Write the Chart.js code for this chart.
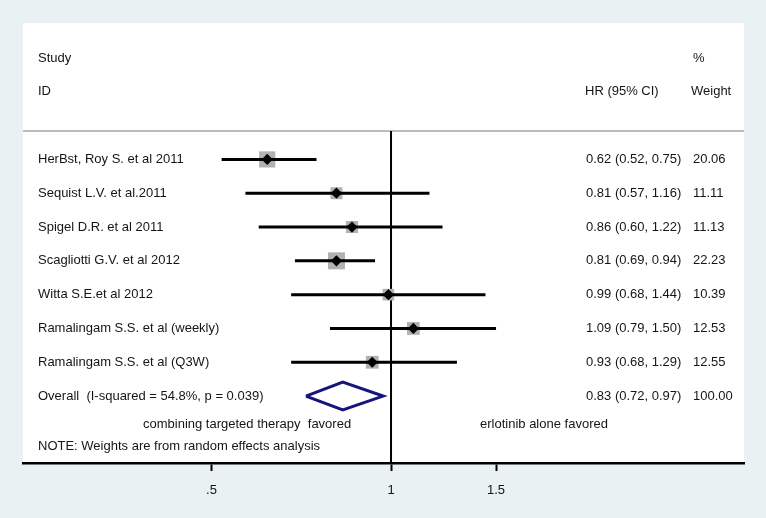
<!DOCTYPE html>
<html>
<head>
<meta charset="utf-8">
<script src="https://cdn.jsdelivr.net/npm/chart.js@4"></script>
<style>
  body { margin: 0; background: #e9f1f3; }
  canvas { display: block; }
</style>
</head>
<body>
<canvas id="forest" width="766" height="518"></canvas>
<script>
// study data
var studies = ['HerBst, Roy S. et al 2011', 'Sequist L.V. et al.2011', 'Spigel D.R. et al 2011',
  'Scagliotti G.V. et al 2012', 'Witta S.E.et al 2012', 'Ramalingam S.S. et al (weekly)', 'Ramalingam S.S. et al (Q3W)'];
var hr = [0.62, 0.81, 0.86, 0.81, 0.99, 1.09, 0.93];
var lower = [0.52, 0.57, 0.60, 0.69, 0.68, 0.79, 0.68];
var upper = [0.75, 1.16, 1.22, 0.94, 1.44, 1.50, 1.29];
var weights = [20.06, 11.11, 11.13, 22.23, 10.39, 12.53, 12.55];
var rows = [3, 4, 5, 6, 7, 8, 9];

var overallLabel = 'Overall  (I-squared = 54.8%, p = 0.039)';
var overall = { hr: 0.83, lower: 0.72, upper: 0.97, weight: '100.00', row: 10 };

var xTicks = [0.5, 1, 1.5];
var xTickLabels = ['.5', '1', '1.5'];

var FONT = '13px "Liberation Sans", Arial, sans-serif';
var TXT = '#151515';

function fmt(v) { return v.toFixed(2); }

var datasets = [];

// black diamond markers (on top)
datasets.push({
  data: hr.map(function(v, i) { return { x: v, y: rows[i] }; }),
  pointStyle: 'rectRot',
  pointRadius: 5.6,
  pointHoverRadius: 5.6,
  backgroundColor: '#000',
  borderWidth: 0,
  order: 0
});

// confidence interval lines
studies.forEach(function(s, i) {
  datasets.push({
    data: [{ x: lower[i], y: rows[i] }, { x: upper[i], y: rows[i] }],
    showLine: true,
    borderColor: '#000',
    borderWidth: 3,
    pointRadius: 0,
    order: 1
  });
});

// weight squares
datasets.push({
  data: hr.map(function(v, i) { return { x: v, y: rows[i] }; }),
  pointStyle: 'rect',
  pointRadius: function(ctx) { return 2.55 * Math.sqrt(weights[ctx.dataIndex] || 0); },
  backgroundColor: '#b1b1b1',
  borderWidth: 0,
  order: 2
});

// overall diamond
var dh = 0.41;
datasets.push({
  data: [
    { x: overall.lower, y: overall.row },
    { x: overall.hr, y: overall.row - dh },
    { x: overall.upper, y: overall.row },
    { x: overall.hr, y: overall.row + dh },
    { x: overall.lower, y: overall.row }
  ],
  showLine: true,
  borderColor: '#15157a',
  borderWidth: 3,
  borderJoinStyle: 'miter',
  pointRadius: 0,
  order: 3
});

var forestPlugin = {
  id: 'forest',
  beforeDraw: function(chart) {
    var c = chart.ctx, a = chart.chartArea;
    c.save();
    c.fillStyle = '#e9f1f3';
    c.fillRect(0, 0, chart.width, chart.height);
    c.fillStyle = '#fff';
    c.fillRect(a.left, a.top, a.right - a.left, a.bottom - a.top);
    c.restore();
  },
  beforeDatasetsDraw: function(chart) {
    var c = chart.ctx, a = chart.chartArea;
    var xs = chart.scales.x, ys = chart.scales.y;
    var sepY = ys.getPixelForValue(2.16);
    c.save();
    c.strokeStyle = '#bcbcbc';
    c.lineWidth = 2;
    c.beginPath();
    c.moveTo(a.left, sepY);
    c.lineTo(a.right, sepY);
    c.stroke();
    var x1 = xs.getPixelForValue(1);
    c.strokeStyle = '#000';
    c.lineWidth = 2;
    c.beginPath();
    c.moveTo(x1, sepY);
    c.lineTo(x1, a.bottom);
    c.stroke();
    c.restore();
  },
  afterDatasetsDraw: function(chart) {
    var c = chart.ctx, ys = chart.scales.y;
    function y(r) { return ys.getPixelForValue(r); }
    c.save();
    c.font = FONT;
    c.fillStyle = TXT;
    c.textBaseline = 'middle';
    c.textAlign = 'left';
    c.fillText('Study', 38, y(0));
    c.fillText('ID', 38, y(1));
    c.fillText('%', 693, y(0));
    c.fillText('HR (95% CI)', 585, y(1));
    c.fillText('Weight', 691, y(1));
    studies.forEach(function(s, i) {
      c.fillText(s, 38, y(rows[i]));
      c.fillText(fmt(hr[i]) + ' (' + fmt(lower[i]) + ', ' + fmt(upper[i]) + ')', 586, y(rows[i]));
      c.fillText(fmt(weights[i]), 693, y(rows[i]));
    });
    c.fillText(overallLabel, 38, y(overall.row));
    c.fillText(fmt(overall.hr) + ' (' + fmt(overall.lower) + ', ' + fmt(overall.upper) + ')', 586, y(overall.row));
    c.fillText(overall.weight, 693, y(overall.row));
    c.fillText('combining targeted therapy  favored', 143, y(10.83));
    c.fillText('erlotinib alone favored', 480, y(10.83));
    c.fillText('NOTE: Weights are from random effects analysis', 38, y(11.48));
    c.restore();
  }
};

new Chart(document.getElementById('forest'), {
  type: 'scatter',
  data: { datasets: datasets },
  options: {
    responsive: false,
    animation: false,
    events: [],
    layout: { padding: { left: 23, right: 22, top: 23, bottom: 0 } },
    plugins: { legend: { display: false }, tooltip: { enabled: false } },
    scales: {
      x: {
        type: 'logarithmic',
        min: 0.2415,
        max: 3.907,
        afterBuildTicks: function(scale) {
          scale.ticks = xTicks.map(function(v) { return { value: v }; });
        },
        afterFit: function(scale) { scale.height = 55; },
        ticks: {
          autoSkip: false,
          maxRotation: 0,
          padding: 12,
          color: TXT,
          font: { family: '"Liberation Sans", Arial, sans-serif', size: 13 },
          callback: function(v) {
            var i = xTicks.indexOf(v);
            return i >= 0 ? xTickLabels[i] : '';
          }
        },
        grid: {
          drawOnChartArea: false,
          drawTicks: true,
          tickLength: 8,
          tickWidth: 2,
          tickColor: '#000'
        },
        border: { color: '#000', width: 2.5 }
      },
      y: {
        type: 'linear',
        display: false,
        reverse: true,
        min: -1.035,
        max: 11.98
      }
    }
  },
  plugins: [forestPlugin]
});
</script>
</body>
</html>
